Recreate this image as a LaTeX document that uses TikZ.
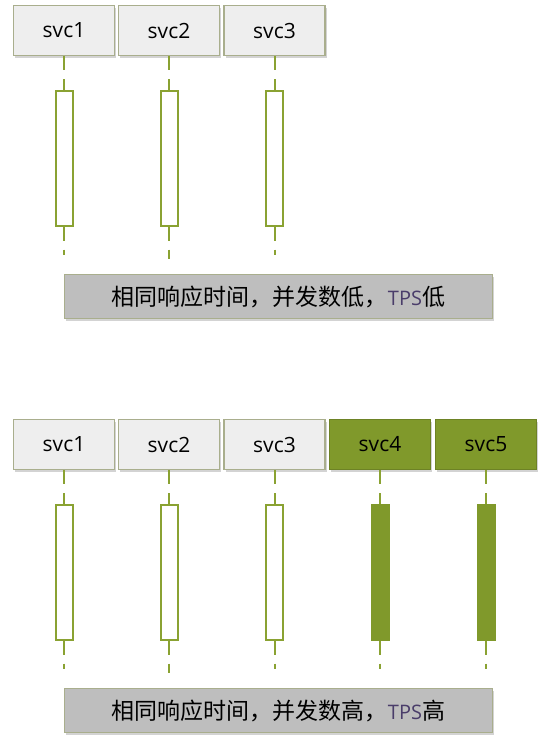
\documentclass[tikz,border=0pt]{standalone}
\usepackage{fontspec}
\setmainfont{Open Sans}
\newfontfamily\cjk{Noto Sans CJK SC}
\usetikzlibrary{positioning,shadows}
\definecolor{svcgreen}{HTML}{80992B}
\definecolor{linegreen}{HTML}{8AA232}
\definecolor{boxgray}{HTML}{EEEEEE}
\definecolor{boxline}{HTML}{A9AE8D}
\definecolor{capgray}{HTML}{BEBEBE}
\definecolor{tpscol}{HTML}{4A3D6A}

\tikzset{
  svc/.style={draw=boxline, line width=1.2pt, fill=boxgray, minimum width=101pt, minimum height=50pt,
              inner sep=0pt, font=\fontsize{21}{24}\selectfont,
              drop shadow={shadow xshift=1.5pt, shadow yshift=-2.5pt, opacity=.35}},
  busy/.style={svc, fill=svcgreen, draw=svcgreen!85!black},
  act/.style={draw=linegreen, line width=2pt, fill=white, minimum width=17pt, minimum height=135pt, inner sep=0pt},
  actbusy/.style={act, fill=svcgreen, draw=svcgreen},
  life/.style={linegreen, line width=2pt, dash pattern=on 14pt off 9pt},
  caption/.style={draw=boxline, line width=1.2pt, fill=capgray, minimum width=428pt, minimum height=44pt,
                  inner sep=0pt, font=\fontsize{23}{26}\selectfont\cjk,
                  drop shadow={shadow xshift=1.5pt, shadow yshift=-2.5pt, opacity=.35}}
}
\newcommand{\tpsword}{{\color{tpscol}\fontsize{20}{24}\selectfont\rmfamily TPS}}

\begin{document}
\begin{tikzpicture}[x=1pt, y=-1pt]
  \useasboundingbox (0,0) rectangle (550,745);

  % upper chart
  \node[svc] (s1) at (64,30.5)    {svc1};
  \node[svc] (s2) at (169,30.5)   {svc2};
  \node[svc] (s3) at (274.5,30.5) {svc3};

  \node[act] (a1) at (64,158)    {};
  \node[act] (a2) at (169,158)   {};
  \node[act] (a3) at (274.5,158) {};

  \coordinate (e1) at (64,255);
  \coordinate (e2) at (169,259);
  \coordinate (e3) at (274.5,255);

  \draw[life] (s1.south) -- (a1.north);
  \draw[life] (s2.south) -- (a2.north);
  \draw[life] (s3.south) -- (a3.north);
  \draw[life] (a1.south) -- (e1);
  \draw[life] (a2.south) -- (e2);
  \draw[life] (a3.south) -- (e3);

  \node[caption] (cap1) at (278.5,296.5) {相同响应时间，并发数低，\tpsword 低};

  % lower chart
  \node[svc]  (r1) at (64,444.5)    {svc1};
  \node[svc]  (r2) at (169,444.5)   {svc2};
  \node[svc]  (r3) at (274.5,444.5) {svc3};
  \node[busy] (r4) at (380,444.5)   {svc4};
  \node[busy] (r5) at (486,444.5)   {svc5};

  \node[act]     (b1) at (64,572)    {};
  \node[act]     (b2) at (169,572)   {};
  \node[act]     (b3) at (274.5,572) {};
  \node[actbusy] (b4) at (380,572)   {};
  \node[actbusy] (b5) at (486,572)   {};

  \coordinate (f1) at (64,669);
  \coordinate (f2) at (169,673);
  \coordinate (f3) at (274.5,669);
  \coordinate (f4) at (380,669);
  \coordinate (f5) at (486,669);

  \draw[life] (r1.south) -- (b1.north);
  \draw[life] (r2.south) -- (b2.north);
  \draw[life] (r3.south) -- (b3.north);
  \draw[life] (r4.south) -- (b4.north);
  \draw[life] (r5.south) -- (b5.north);
  \draw[life] (b1.south) -- (f1);
  \draw[life] (b2.south) -- (f2);
  \draw[life] (b3.south) -- (f3);
  \draw[life] (b4.south) -- (f4);
  \draw[life] (b5.south) -- (f5);

  \node[caption] (cap2) at (278.5,710.5) {相同响应时间，并发数高，\tpsword 高};
\end{tikzpicture}
\end{document}
